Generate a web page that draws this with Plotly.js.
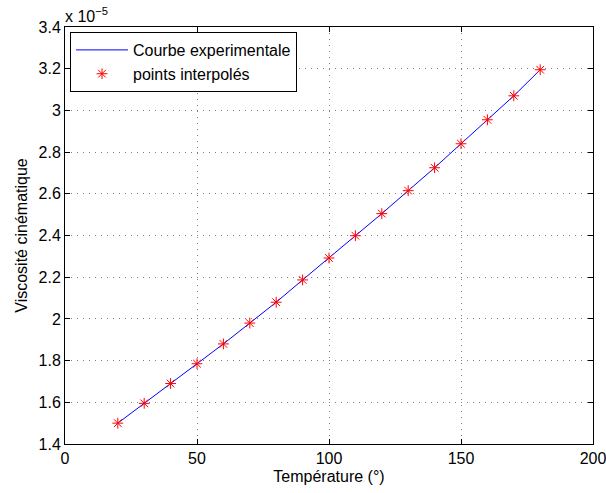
<!DOCTYPE html>
<html>
<head>
<meta charset="utf-8">
<script src="https://cdn.plot.ly/plotly-3.0.1.min.js"></script>
<style>html,body{margin:0;padding:0;background:#fff;}#chart{width:606px;height:493px;}</style>
</head>
<body>
<div id="chart"></div>
<script>
// Temperature (°)
var temperature = [20, 30, 40, 50, 60, 70, 80, 90, 100, 110, 120, 130, 140, 150, 160, 170, 180];
// Kinematic viscosity, in units of 1e-5
var viscosity = [1.50, 1.595, 1.69, 1.785, 1.88, 1.98, 2.08, 2.187, 2.292, 2.399, 2.505, 2.615, 2.725, 2.84, 2.955, 3.07, 3.195];
var yTickVals = [1.4, 1.6, 1.8, 2, 2.2, 2.4, 2.6, 2.8, 3, 3.2, 3.4];
var yTickText = ["1.4", "1.6", "1.8", "2", "2.2", "2.4", "2.6", "2.8", "3", "3.2", "3.4"];
var xTickVals = [0, 50, 100, 150, 200];

var font = {family: "Liberation Sans, Arial, sans-serif", size: 16, color: "#000"};

var traces = [
  {x: temperature, y: viscosity, type: "scatter", mode: "lines", name: "Courbe experimentale",
   line: {color: "#0000ff", width: 1}},
  {x: temperature, y: viscosity, type: "scatter", mode: "markers", name: "points interpolés",
   marker: {symbol: "asterisk-open", size: 9, color: "#ff0000", line: {color: "#ff0000", width: 1}}}
];

var axisCommon = {
  showline: true, linecolor: "#000", linewidth: 1, mirror: "ticks",
  ticks: "inside", ticklen: 5, tickcolor: "#000",
  showgrid: true, gridcolor: "rgba(0,0,0,0.5)", griddash: "1px,5px", gridwidth: 1,
  zeroline: false, tickfont: font, ticklabeloverflow: "allow"
};

var layout = {
  width: 606, height: 493,
  margin: {l: 65, r: 13, t: 27, b: 49},
  paper_bgcolor: "#fff", plot_bgcolor: "#fff",
  font: font,
  showlegend: true,
  legend: {x: 0.0095, y: 0.988, xanchor: "left", yanchor: "top", bgcolor: "#fff",
           bordercolor: "#000", borderwidth: 1, font: font,
           itemwidth: 52, tracegroupgap: 0},
  xaxis: Object.assign({}, axisCommon, {
    range: [0, 200], tickvals: xTickVals,
    title: {text: "Température (°)", font: font, standoff: 4}
  }),
  yaxis: Object.assign({}, axisCommon, {
    range: [1.4, 3.4], tickvals: yTickVals, ticktext: yTickText,
    title: {text: "Viscosité cinématique", font: font, standoff: 6}
  }),
  annotations: [{
    xref: "paper", yref: "paper", x: 0, y: 1, xanchor: "left", yanchor: "bottom", yshift: 0, xshift: -2,
    text: "x 10<sup>−5</sup>", showarrow: false, font: font
  }]
};

Plotly.newPlot("chart", traces, layout, {displayModeBar: false, staticPlot: true});
</script>
</body>
</html>
